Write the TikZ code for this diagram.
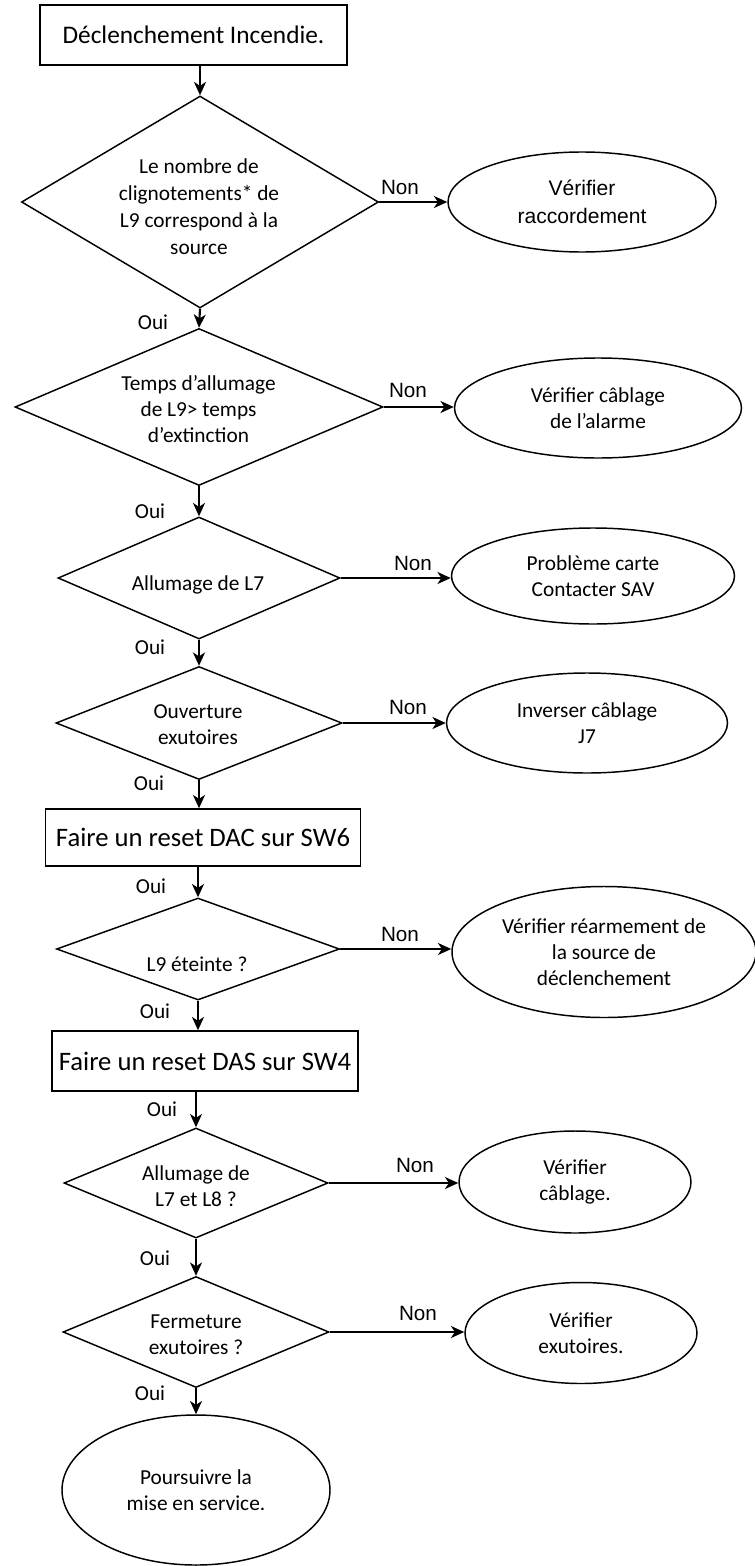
\documentclass[tikz,border=0pt]{standalone}
\usepackage{fontspec}
\setmainfont{Carlito}
\newfontfamily\arialf{Liberation Sans}
\usetikzlibrary{shapes.geometric,arrows.meta}
\begin{document}
\begin{tikzpicture}[x=0.75pt,y=-0.75pt,
 dia/.style={draw,diamond,inner sep=0pt,line width=1.1pt},
 box/.style={draw,rectangle,inner sep=0pt,line width=1.1pt,font=\fontsize{20}{24}\selectfont},
 ell/.style={draw,ellipse,inner sep=0pt,line width=1.1pt,align=center,font=\fontsize{16}{19.5}\selectfont},
 ellar/.style={ell,font=\arialf\fontsize{15.8}{21.5}\selectfont},
 txt/.style={align=center,inner sep=0pt,font=\fontsize{16}{19.5}\selectfont},
 oui/.style={inner sep=0pt,font=\fontsize{16}{19}\selectfont},
 non/.style={inner sep=0pt,font=\arialf\fontsize{15.5}{18}\selectfont},
 arr/.style={-{Stealth[length=10pt,width=9pt,inset=3pt]},line width=1.6pt}]
\useasboundingbox (0,0) rectangle (755,1566);

% boxes
\node[box,minimum width=230.25pt,minimum height=45pt,font=\fontsize{19}{23}\selectfont] (b1) at (193.5,35) {Déclenchement Incendie.};
\node[box,minimum width=236.25pt,minimum height=42.75pt] (b2) at (203,837.5) {Faire un reset DAC sur SW6};
\node[box,minimum width=229.5pt,minimum height=45pt] (b3) at (205,1061) {Faire un reset DAS sur SW4};

% diamonds
\node[dia,minimum width=267.75pt,minimum height=159pt] (d1) at (200,202) {};
\node[dia,minimum width=276pt,minimum height=117.75pt] (d2) at (199,407) {};
\node[dia,minimum width=211.5pt,minimum height=91.5pt] (d3) at (199,578) {};
\node[dia,minimum width=214.5pt,minimum height=84.75pt] (d4) at (199,723) {};
\node[dia,minimum width=212.25pt,minimum height=76.5pt] (d5) at (198,949) {};
\node[dia,minimum width=198pt,minimum height=82.5pt] (d6) at (196,1183) {};
\node[dia,minimum width=199.5pt,minimum height=83.25pt] (d7) at (196,1332) {};

% diamond texts
\node[txt,font=\fontsize{16}{20.25}\selectfont] (t1) at (199,207) {Le nombre de\\clignotements* de\\L9 correspond à la\\source};
\node[txt] (t2) at (198.5,409) {Temps d’allumage\\de L9> temps\\d’extinction};
\node[txt] (t3) at (198,585) {Allumage de L7};
\node[txt] (t4) at (198,725) {Ouverture\\exutoires};
\node[txt] (t5) at (197,964) {L9 éteinte ?};
\node[txt] (t6) at (196,1186) {Allumage de\\L7 et L8 ?};
\node[txt] (t7) at (196,1335) {Fermeture\\exutoires ?};

% ellipses
\node[ellar,minimum width=201pt,minimum height=75pt] (e1) at (582,202) {Vérifier\\raccordement};
\node[ell,minimum width=215.25pt,minimum height=75pt] (e2) at (598,408) {Vérifier câblage\\de l’alarme};
\node[ell,minimum width=212.25pt,minimum height=72pt] (e3) at (593,576) {Problème carte\\Contacter SAV};
\node[ell,minimum width=210.75pt,minimum height=75pt] (e4) at (587,723) {Inverser câblage\\J7};
\node[ell,minimum width=228pt,minimum height=98.25pt] (e5) at (604,952) {Vérifier réarmement de\\la source de\\déclenchement};
\node[ell,minimum width=174pt,minimum height=76.5pt] (e6) at (575,1182) {Vérifier\\câblage.};
\node[ell,minimum width=174pt,minimum height=75.75pt] (e7) at (581,1333) {Vérifier\\exutoires.};
\node[ell,minimum width=201pt,minimum height=112.5pt] (e8) at (196,1490) {Poursuivre la\\mise en service.};

% labels
\node[oui] (o1) at (153,322) {Oui};
\node[oui] (o2) at (150,511) {Oui};
\node[oui] (o3) at (150,647) {Oui};
\node[oui] (o4) at (149,783) {Oui};
\node[oui] (o5) at (151,886) {Oui};
\node[oui] (o6) at (155,1011) {Oui};
\node[oui] (o7) at (162,1109) {Oui};
\node[oui] (o8) at (155,1258) {Oui};
\node[oui] (o9) at (150,1393) {Oui};
\node[non] (n1) at (400,187) {Non};
\node[non] (n2) at (408,390) {Non};
\node[non] (n3) at (413,563) {Non};
\node[non] (n4) at (408,707) {Non};
\node[non] (n5) at (400,934) {Non};
\node[non] (n6) at (415,1165) {Non};
\node[non] (n7) at (418,1313) {Non};

% vertical connectors
\draw[arr] (d1.north |- b1.south) -- (d1.north);
\draw[arr] (d1.south) -- (d2.north);
\draw[arr] (d2.south) -- (d3.north);
\draw[arr] (d3.south) -- (d4.north);
\draw[arr] (d4.south) -- (d4.south |- b2.north);
\draw[arr] (d5.north |- b2.south) -- (d5.north);
\draw[arr] (d5.south) -- (d5.south |- b3.north);
\draw[arr] (d6.north |- b3.south) -- (d6.north);
\draw[arr] (d6.south) -- (d7.north);
\draw[arr] (d7.south) -- (e8.north);

% horizontal connectors
\draw[arr] (d1.east) -- (d1.east -| e1.west);
\draw[arr] (d2.east) -- (d2.east -| e2.west);
\draw[arr] (d3.east) -- (d3.east -| e3.west);
\draw[arr] (d4.east) -- (d4.east -| e4.west);
\draw[arr] (d5.east) -- (d5.east -| e5.west);
\draw[arr] (d6.east) -- (d6.east -| e6.west);
\draw[arr] (d7.east) -- (d7.east -| e7.west);
\end{tikzpicture}
\end{document}
